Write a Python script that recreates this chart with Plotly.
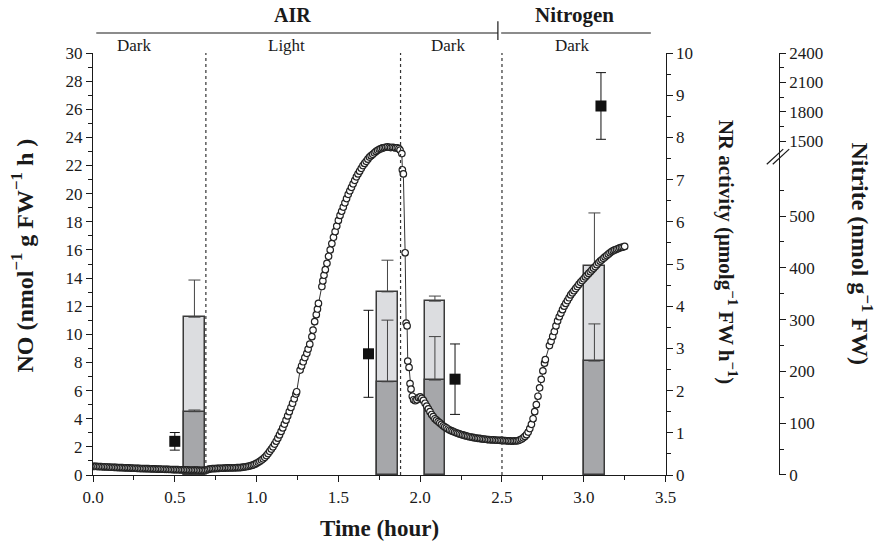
import plotly.graph_objects as go

# ---- NO emission time course (left axis, nmol g-1 FW h-1) ----
time_h = [
    0.00, 0.01, 0.02, 0.03, 0.04, 0.05, 0.06, 0.07, 0.08, 0.09, 0.10, 0.11, 0.12, 0.13, 0.14,
    0.15, 0.16, 0.17, 0.18, 0.19, 0.20, 0.21, 0.22, 0.23, 0.24, 0.25, 0.26, 0.27, 0.28, 0.29,
    0.30, 0.31, 0.32, 0.33, 0.34, 0.35, 0.36, 0.37, 0.38, 0.39, 0.40, 0.41, 0.42, 0.43, 0.44,
    0.45, 0.46, 0.47, 0.48, 0.49, 0.50, 0.51, 0.52, 0.53, 0.54, 0.55, 0.56, 0.57, 0.58, 0.59,
    0.60, 0.61, 0.62, 0.63, 0.64, 0.65, 0.66, 0.67, 0.68, 0.69, 0.70, 0.71, 0.72, 0.73, 0.74,
    0.75, 0.76, 0.77, 0.78, 0.79, 0.80, 0.81, 0.82, 0.83, 0.84, 0.85, 0.86, 0.87, 0.88, 0.89,
    0.90, 0.91, 0.92, 0.93, 0.94, 0.95, 0.96, 0.97, 0.98, 0.99, 1.00, 1.01, 1.02, 1.03, 1.04,
    1.05, 1.06, 1.07, 1.08, 1.09, 1.10, 1.11, 1.12, 1.13, 1.14, 1.15, 1.16, 1.17, 1.18, 1.19,
    1.20, 1.21, 1.22, 1.23, 1.24, 1.245, 1.266, 1.275, 1.285, 1.295, 1.307, 1.315, 1.325, 1.338, 1.345,
    1.355, 1.365, 1.372, 1.378, 1.399, 1.405, 1.412, 1.42, 1.43, 1.44, 1.45, 1.46, 1.47, 1.48, 1.49,
    1.50, 1.51, 1.52, 1.53, 1.54, 1.55, 1.56, 1.57, 1.58, 1.59, 1.60, 1.61, 1.62, 1.63, 1.64,
    1.65, 1.66, 1.67, 1.68, 1.69, 1.70, 1.71, 1.72, 1.73, 1.74, 1.75, 1.76, 1.77, 1.78, 1.79,
    1.80, 1.81, 1.82, 1.83, 1.84, 1.85, 1.86, 1.87, 1.877, 1.888, 1.891, 1.897, 1.908, 1.914, 1.920,
    1.924, 1.932, 1.938, 1.944, 1.952, 1.960, 1.970, 1.980, 1.990, 2.000, 2.010, 2.020, 2.030, 2.040, 2.050,
    2.060, 2.070, 2.080, 2.090, 2.10, 2.11, 2.12, 2.13, 2.14, 2.15, 2.16, 2.17, 2.18, 2.19, 2.20,
    2.21, 2.22, 2.23, 2.24, 2.25, 2.26, 2.27, 2.28, 2.29, 2.30, 2.31, 2.32, 2.33, 2.34, 2.35,
    2.36, 2.37, 2.38, 2.39, 2.40, 2.41, 2.42, 2.43, 2.44, 2.45, 2.46, 2.47, 2.48, 2.49, 2.50,
    2.51, 2.52, 2.53, 2.54, 2.55, 2.56, 2.57, 2.58, 2.59, 2.60, 2.61, 2.62, 2.63, 2.64, 2.65,
    2.66, 2.67, 2.68, 2.69, 2.70, 2.71, 2.72, 2.73, 2.74, 2.75, 2.76, 2.765, 2.79, 2.80, 2.81,
    2.82, 2.83, 2.84, 2.85, 2.86, 2.87, 2.88, 2.89, 2.90, 2.91, 2.92, 2.93, 2.94, 2.95, 2.96,
    2.97, 2.98, 2.99, 3.00, 3.01, 3.02, 3.03, 3.04, 3.05, 3.06, 3.07, 3.08, 3.09, 3.10, 3.11,
    3.12, 3.13, 3.14, 3.15, 3.16, 3.17, 3.18, 3.19, 3.20, 3.21, 3.22, 3.23, 3.24, 3.25,
]
no_rate = [
    0.62, 0.62, 0.61, 0.60, 0.60, 0.59, 0.58, 0.58, 0.57, 0.57, 0.56, 0.55, 0.55, 0.54, 0.54,
    0.53, 0.53, 0.52, 0.52, 0.51, 0.51, 0.50, 0.50, 0.49, 0.49, 0.48, 0.48, 0.47, 0.47, 0.46,
    0.46, 0.46, 0.45, 0.45, 0.45, 0.44, 0.44, 0.43, 0.43, 0.42, 0.42, 0.42, 0.41, 0.41, 0.40,
    0.40, 0.40, 0.39, 0.39, 0.38, 0.38, 0.38, 0.38, 0.37, 0.37, 0.36, 0.36, 0.36, 0.36, 0.35,
    0.35, 0.35, 0.34, 0.34, 0.34, 0.33, 0.33, 0.33, 0.33, 0.34, 0.38, 0.42, 0.44, 0.45, 0.46,
    0.46, 0.47, 0.47, 0.48, 0.48, 0.49, 0.49, 0.50, 0.50, 0.50, 0.51, 0.51, 0.51, 0.52, 0.52,
    0.53, 0.54, 0.56, 0.58, 0.60, 0.62, 0.65, 0.68, 0.72, 0.77, 0.83, 0.90, 0.97, 1.06, 1.15,
    1.26, 1.38, 1.52, 1.68, 1.84, 2.00, 2.20, 2.40, 2.62, 2.85, 3.10, 3.35, 3.62, 3.90, 4.20,
    4.50, 4.80, 5.10, 5.42, 5.75, 5.92, 7.46, 7.75, 8.05, 8.35, 8.65, 8.95, 9.30, 9.83, 10.3,
    10.9, 11.4, 11.8, 12.2, 13.4, 13.8, 14.2, 14.6, 15.05, 15.55, 16.0, 16.45, 16.9, 17.3, 17.7,
    18.1, 18.45, 18.75, 19.05, 19.35, 19.65, 19.95, 20.2, 20.45, 20.7, 20.95, 21.2, 21.4, 21.6, 21.8,
    22.0, 22.15, 22.3, 22.45, 22.6, 22.7, 22.8, 22.9, 23.0, 23.08, 23.15, 23.2, 23.25, 23.28, 23.3,
    23.32, 23.3, 23.28, 23.3, 23.28, 23.25, 23.25, 23.2, 23.1, 22.85, 21.7, 21.4, 15.8, 10.8, 10.6,
    8.1, 7.65, 6.5, 6.1, 5.6, 5.35, 5.28, 5.35, 5.5, 5.55, 5.45, 5.3, 5.1, 4.9, 4.7,
    4.5, 4.3, 4.15, 4.0, 3.9, 3.8, 3.7, 3.6, 3.5, 3.42, 3.35, 3.27, 3.2, 3.15, 3.1,
    3.05, 3.0, 2.96, 2.92, 2.88, 2.85, 2.81, 2.78, 2.75, 2.72, 2.7, 2.67, 2.65, 2.63, 2.61,
    2.6, 2.58, 2.56, 2.55, 2.54, 2.52, 2.51, 2.5, 2.5, 2.49, 2.48, 2.47, 2.47, 2.46, 2.46,
    2.45, 2.44, 2.43, 2.42, 2.42, 2.41, 2.41, 2.42, 2.43, 2.45, 2.5, 2.56, 2.64, 2.74, 2.87,
    3.05, 3.3, 3.6, 4.0, 4.5, 5.0, 5.6, 6.2, 6.8, 7.4, 7.95, 8.2, 9.2, 9.5, 9.85,
    10.2, 10.6, 10.95, 11.25, 11.5, 11.75, 12.0, 12.2, 12.4, 12.6, 12.8, 12.95, 13.1, 13.25, 13.4,
    13.55, 13.7, 13.82, 13.95, 14.08, 14.2, 14.33, 14.45, 14.58, 14.7, 14.82, 14.95, 15.08, 15.2, 15.3,
    15.4, 15.5, 15.6, 15.7, 15.8, 15.88, 15.95, 16.0, 16.05, 16.1, 16.15, 16.18, 16.2, 16.25,
]

# ---- NR activity (right axis, umol g-1 FW h-1) ----
nr_time = [0.62, 1.80, 2.09, 3.065]
nr_light = [3.74, 4.34, 4.12, 4.96]
nr_light_err = [0.88, 0.75, 0.12, 1.25]
nr_dark = [1.50, 2.21, 2.25, 2.70]
nr_dark_err = [0.04, 1.46, 1.03, 0.88]

# ---- Nitrite content (outer right axis, nmol g-1 FW) ----
nitrite_time = [0.50, 1.684, 2.213, 3.105]
nitrite = [65, 234, 185, 1860]
nitrite_err = [17, 84, 68, 340]

# ---- period boundaries and labels ----
period_lines = [0.69, 1.88, 2.5]
phase_labels = ["Dark", "Light", "Dark", "Dark"]
phase_x = [0.25, 1.18, 2.17, 2.93]

SERIF = "Liberation Serif"
INK = "#1a1a1a"

fig = go.Figure()

# NR bars (light = total, dark = fraction), drawn on the primary y axis
fig.add_trace(go.Bar(
    x=nr_time, y=nr_light, width=0.124, yaxis="y", xaxis="x",
    marker=dict(color="#dcdde0", line=dict(color="#3a3a3a", width=1.5)),
    error_y=dict(type="data", symmetric=False, array=nr_light_err,
                 arrayminus=[0] * len(nr_light_err), color="#444", thickness=1, width=6),
    showlegend=False,
))
fig.add_trace(go.Bar(
    x=nr_time, y=nr_dark, width=0.124, yaxis="y", xaxis="x",
    marker=dict(color="#a6a7aa", line=dict(color="#3a3a3a", width=1.5)),
    error_y=dict(type="data", symmetric=False, array=nr_dark_err,
                 arrayminus=[0] * len(nr_dark_err), color="#444", thickness=1, width=6),
    showlegend=False,
))

# NO time course on the overlaying left axis (drawn above the bars)
fig.add_trace(go.Scatter(
    x=time_h, y=no_rate, yaxis="y2", xaxis="x", mode="lines+markers",
    line=dict(color="#333", width=1),
    marker=dict(symbol="circle", size=6.5, color="white", line=dict(color="#222", width=1.2)),
    showlegend=False,
))

# Nitrite squares, split across the two segments of the broken axis
lo = [i for i, v in enumerate(nitrite) if v < 1000]
hi = [i for i, v in enumerate(nitrite) if v >= 1000]
for idx, ax in ((lo, "y3"), (hi, "y4")):
    fig.add_trace(go.Scatter(
        x=[nitrite_time[i] for i in idx], y=[nitrite[i] for i in idx],
        xaxis="x", yaxis=ax, mode="markers",
        marker=dict(symbol="square", size=11, color="#111"),
        error_y=dict(type="data", array=[nitrite_err[i] for i in idx],
                     color="#111", thickness=1, width=5),
        showlegend=False,
    ))

tickfont = dict(family=SERIF, size=17, color=INK)
axis_common = dict(showgrid=False, zeroline=False, showline=True, linecolor=INK,
                   linewidth=1.2, ticks="outside", tickcolor=INK, tickwidth=1.2,
                   ticklen=6, tickfont=tickfont)

XD = 0.7665          # right end of the plotting area (paper fraction)
LO_TOP = 0.7583      # split point of the broken nitrite axis
NIT_POS = 0.918      # horizontal position of the nitrite axis

fig.update_layout(
    width=880, height=546,
    margin=dict(l=93, r=40, t=53, b=71),
    paper_bgcolor="white", plot_bgcolor="rgba(0,0,0,0)",
    barmode="overlay", bargap=0,
    xaxis=dict(domain=[0, XD], range=[0, 3.5], anchor="y", dtick=0.5, tick0=0,
               tickformat=".1f",
               minor=dict(ticks="outside", dtick=0.25, ticklen=4, tickcolor=INK, tickwidth=1.2),
               **axis_common),
    yaxis=dict(range=[0, 10], side="right", anchor="x", dtick=1, tick0=0,
               minor=dict(ticks="outside", dtick=0.5, ticklen=4, tickcolor=INK, tickwidth=1.2),
               **axis_common),
    yaxis2=dict(range=[0, 30], side="left", overlaying="y", anchor="x", dtick=2, tick0=0,
                minor=dict(ticks="outside", dtick=1, ticklen=4, tickcolor=INK, tickwidth=1.2),
                **axis_common),
    yaxis3=dict(domain=[0, LO_TOP], range=[0, 617.8], anchor="free", position=NIT_POS,
                side="right", tickvals=[0, 100, 200, 300, 400, 500],
                minor=dict(ticks="outside", tickvals=[50, 150, 250, 350, 450, 550],
                           ticklen=4, tickcolor=INK, tickwidth=1.2),
                **axis_common),
    yaxis4=dict(domain=[LO_TOP, 1], range=[1360, 2400], anchor="free", position=NIT_POS,
                side="right", tickvals=[1500, 1800, 2100, 2400],
                minor=dict(ticks="outside", tickvals=[1650, 1950, 2250],
                           ticklen=4, tickcolor=INK, tickwidth=1.2),
                **axis_common),
)

shapes = []
# dotted light/dark/atmosphere boundaries
for xv in period_lines:
    shapes.append(dict(type="line", xref="x", yref="paper", x0=xv, x1=xv, y0=0, y1=1,
                       line=dict(color="#333", width=1.2, dash="dot")))
# header brackets for AIR / Nitrogen
shapes.append(dict(type="line", xref="x", yref="paper", x0=0.02, x1=2.475, y0=1.0474, y1=1.0474,
                   line=dict(color=INK, width=1.2)))
shapes.append(dict(type="line", xref="x", yref="paper", x0=2.475, x1=2.475, y0=1.031, y1=1.075,
                   line=dict(color=INK, width=1.2)))
shapes.append(dict(type="line", xref="x", yref="paper", x0=2.495, x1=3.41, y0=1.0474, y1=1.0474,
                   line=dict(color=INK, width=1.2)))
# break marks on the nitrite axis
for dx in (-0.004, 0.004):
    shapes.append(dict(type="line", xref="paper", yref="paper",
                       x0=NIT_POS - 0.012 + dx, x1=NIT_POS + 0.010 + dx,
                       y0=LO_TOP - 0.022, y1=LO_TOP + 0.014,
                       line=dict(color=INK, width=1.2)))
fig.update_layout(shapes=shapes)

center = dict(xanchor="center", yanchor="middle", showarrow=False)
annotations = [
    dict(text="<b>AIR</b>", x=1.22, y=1.09, xref="x", yref="paper",
         font=dict(family=SERIF, size=20, color=INK), **center),
    dict(text="<b>Nitrogen</b>", x=2.945, y=1.09, xref="x", yref="paper",
         font=dict(family=SERIF, size=21, color=INK), **center),
]
for lab, xv in zip(phase_labels, phase_x):
    annotations.append(dict(text=lab, x=xv, y=1.018, xref="x", yref="paper",
                            font=dict(family=SERIF, size=17, color=INK), **center))
annotations += [
    dict(text="<b>Time (hour)</b>", x=0.384, y=-0.1256, xref="paper", yref="paper",
         font=dict(family=SERIF, size=23, color=INK), **center),
    dict(text="<b>NO (nmol<sup>−1</sup> g FW<sup>−1</sup> h )</b>", x=-0.095, y=0.52,
         xref="paper", yref="paper", textangle=-90,
         font=dict(family=SERIF, size=24, color=INK), **center),
    dict(text="<b>NR activity (μmolg<sup>−1</sup> FW h<sup>−1</sup>)</b>", x=0.8487, y=0.527,
         xref="paper", yref="paper", textangle=90,
         font=dict(family=SERIF, size=21, color=INK), **center),
    dict(text="<b>Nitrite (nmol g<sup>−1</sup> FW)</b>", x=1.0295, y=0.525,
         xref="paper", yref="paper", textangle=90,
         font=dict(family=SERIF, size=24, color=INK), **center),
]
fig.update_layout(annotations=annotations)

fig.write_html("out.html")
